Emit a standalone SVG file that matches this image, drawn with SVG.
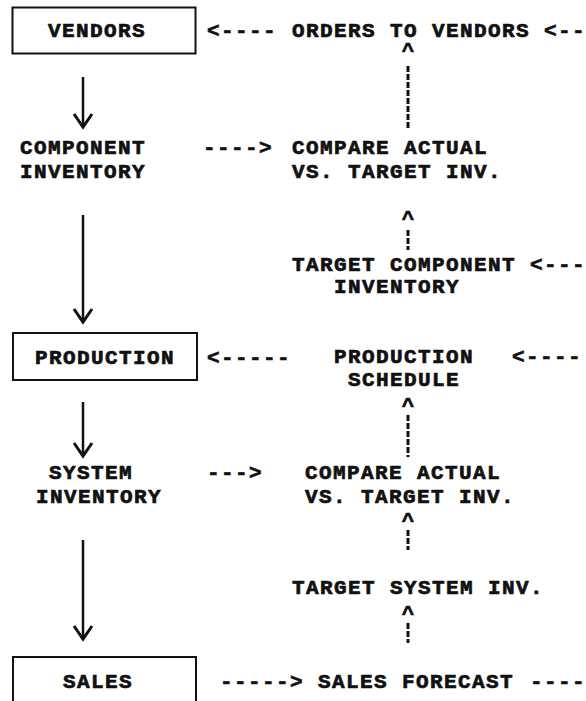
<svg xmlns="http://www.w3.org/2000/svg" width="586" height="701" viewBox="0 0 586 701">
<defs>
<style>
text{font-family:"Liberation Mono","DejaVu Sans Mono",monospace;font-weight:bold;font-size:21px;letter-spacing:1.4px;fill:#111;stroke:#111;stroke-width:0.7px}
.box{fill:#fff;stroke:#111;stroke-width:2}
.solid{stroke:#111;stroke-width:2.5;fill:none}
.head{stroke:#111;stroke-width:3;fill:none;stroke-linejoin:miter}
.dash{stroke:#111;stroke-width:3;stroke-dasharray:6 2;fill:none}
.caret{text-anchor:middle;letter-spacing:0}
</style>
</defs>
<rect width="586" height="701" fill="#fff"/>
<g id="vendors"><rect class="box" x="12.5" y="7.5" width="183" height="46"/><text x="48" y="37">VENDORS</text></g>
<g id="orders"><text x="292" y="37">ORDERS TO VENDORS</text></g>
<g id="component-inventory"><text x="20" y="154">COMPONENT</text><text x="20" y="178">INVENTORY</text></g>
<g id="compare1"><text x="292" y="154">COMPARE ACTUAL</text><text x="292" y="178">VS. TARGET INV.</text></g>
<g id="target-component"><text x="292" y="271">TARGET COMPONENT</text><text x="334" y="293">INVENTORY</text></g>
<g id="production"><rect class="box" x="13" y="333" width="184" height="47"/><text x="35" y="364">PRODUCTION</text></g>
<g id="production-schedule"><text x="334" y="363">PRODUCTION</text><text x="348" y="386">SCHEDULE</text></g>
<g id="system-inventory"><text x="49" y="479">SYSTEM</text><text x="36" y="503">INVENTORY</text></g>
<g id="compare2"><text x="305" y="479">COMPARE ACTUAL</text><text x="305" y="503">VS. TARGET INV.</text></g>
<g id="target-system"><text x="292" y="594">TARGET SYSTEM INV.</text></g>
<g id="sales"><rect class="box" x="13" y="657" width="183" height="60"/><text x="63" y="688">SALES</text></g>
<g id="sales-forecast"><text x="318" y="688">SALES FORECAST</text></g>
<g id="connectors">
<path class="solid" d="M83 77V127"/><path class="head" d="M74 114L83 127L92 114"/>
<path class="solid" d="M83 215V322"/><path class="head" d="M74 309L83 322L92 309"/>
<path class="solid" d="M83 402V456"/><path class="head" d="M74 443L83 456L92 443"/>
<path class="solid" d="M83 540V639"/><path class="head" d="M74 626L83 639L92 626"/>
<text x="207" y="37">&lt;----</text>
<text x="544" y="37">&lt;--</text>
<text x="203" y="154">----&gt;</text>
<text x="530" y="271">&lt;---</text>
<text x="207" y="364">&lt;-----</text>
<text x="512" y="363">&lt;----</text>
<text x="207" y="479">---&gt;</text>
<text x="220" y="688">-----&gt;</text>
<text x="530" y="688">----</text>
<text class="caret" x="408" y="57">^</text><path class="dash" d="M408 66V130"/>
<text class="caret" x="408" y="225">^</text><path class="dash" d="M408 230V250"/>
<text class="caret" x="408" y="412">^</text><path class="dash" d="M408 415V457"/>
<text class="caret" x="408" y="527">^</text><path class="dash" d="M408 530V550"/>
<text class="caret" x="408" y="620">^</text><path class="dash" d="M408 623V643"/>
</g>
</svg>
